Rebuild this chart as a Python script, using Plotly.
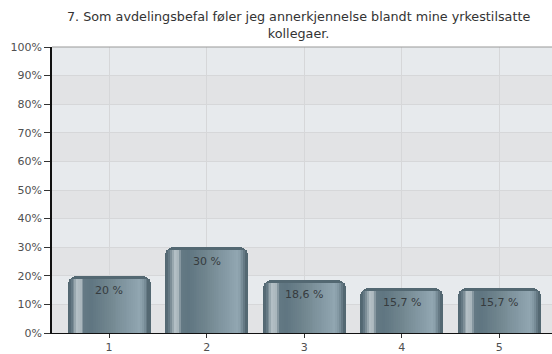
import plotly.graph_objects as go

# ---- data ----
categories = [1, 2, 3, 4, 5]
values = [20, 30, 18.6, 15.7, 15.7]
value_labels = ["20 %", "30 %", "18,6 %", "15,7 %", "15,7 %"]
y_ticks = [0, 10, 20, 30, 40, 50, 60, 70, 80, 90, 100]
y_tick_labels = ["0%", "10%", "20%", "30%", "40%", "50%", "60%", "70%", "80%", "90%", "100%"]
title_text = "7. Som avdelingsbefal føler jeg annerkjennelse blandt mine yrkestilsatte<br>kollegaer."

# ---- style ----
FONT = "DejaVu Sans, Verdana, sans-serif"
BAR_W = 0.85
CAP = 1.15  # darker rounded rim at the top (in axis units)
N_SLICES = 44
stops = [
    (0.00, "#4a5c66"),
    (0.04, "#5d727d"),
    (0.08, "#8797a0"),
    (0.11, "#b4c0c6"),
    (0.16, "#aab7bd"),
    (0.20, "#647984"),
    (0.28, "#5f7581"),
    (0.50, "#71868f"),
    (0.75, "#879ca7"),
    (0.87, "#92a7b2"),
    (0.92, "#7f949f"),
    (0.97, "#566a75"),
    (1.00, "#475962"),
]


def hex2rgb(h):
    h = h.lstrip("#")
    return tuple(int(h[i:i + 2], 16) for i in (0, 2, 4))


def grad(t):
    for (t0, c0), (t1, c1) in zip(stops[:-1], stops[1:]):
        if t0 <= t <= t1:
            f = 0 if t1 == t0 else (t - t0) / (t1 - t0)
            a, b = hex2rgb(c0), hex2rgb(c1)
            return "rgb(%d,%d,%d)" % tuple(round(a[k] + (b[k] - a[k]) * f) for k in range(3))
    return stops[-1][1]


fig = go.Figure()

# base bar (forms the dark rounded top rim)
fig.add_trace(go.Bar(
    x=categories, y=values, width=BAR_W,
    marker=dict(color="#536872", line=dict(width=0), cornerradius=9),
    hoverinfo="skip", showlegend=False,
))

# cylindrical shading slices
inner_l, inner_r = 0.015, 0.985
sw = (inner_r - inner_l) * BAR_W / N_SLICES
for i in range(N_SLICES):
    t = inner_l + (inner_r - inner_l) * (i + 0.5) / N_SLICES
    fig.add_trace(go.Bar(
        x=categories, y=[v - CAP for v in values],
        width=sw * 1.15, offset=-BAR_W / 2 + inner_l * BAR_W + i * sw,
        marker=dict(color=grad(t), line=dict(width=0)),
        hoverinfo="skip", showlegend=False,
    ))

# alternating background bands
shapes = []
for lo, hi in zip(y_ticks[:-1], y_ticks[1:]):
    shapes.append(dict(
        type="rect", xref="paper", yref="y", x0=0, x1=1, y0=lo, y1=hi,
        fillcolor="#e7eaed" if (lo // 10) % 2 == 1 else "#e2e3e5",
        line=dict(width=0), layer="below",
    ))
# top border
shapes.append(dict(type="line", xref="paper", yref="paper", x0=0, x1=1, y0=1, y1=1,
                   line=dict(color="#9a9a9a", width=1.2)))

annotations = [
    dict(x=c, y=v, text=t, showarrow=False, yanchor="top", yshift=-6,
         font=dict(family=FONT, size=11, color="#363b3e"))
    for c, v, t in zip(categories, values, value_labels)
]
# chart title (two lines)
annotations.append(dict(
    x=0.492, y=1, xref="paper", yref="paper", xanchor="center", yanchor="bottom",
    yshift=4, text=title_text, showarrow=False, align="center",
    font=dict(family=FONT, size=12.75, color="#333333"),
))

fig.update_layout(
    width=552, height=354,
    margin=dict(l=52, r=0, t=47, b=21),
    paper_bgcolor="white", plot_bgcolor="rgba(0,0,0,0)",
    barmode="overlay", bargap=0,
    font=dict(family=FONT, size=11, color="#505050"),
    shapes=shapes, annotations=annotations,
    xaxis=dict(range=[0.415, 5.54], tickmode="array", tickvals=categories,
               ticktext=[str(c) for c in categories],
               showgrid=True, gridcolor="#d6d7d9", gridwidth=1,
               showline=True, linecolor="#111111", linewidth=1.2,
               ticks="outside", ticklen=4, tickcolor="#333333", zeroline=False,
               fixedrange=True),
    yaxis=dict(range=[0, 100], tickmode="array", tickvals=y_ticks, ticktext=y_tick_labels,
               showgrid=True, gridcolor="#d6d7d9", gridwidth=1,
               showline=True, linecolor="#111111", linewidth=1.5,
               ticks="outside", ticklen=6, tickcolor="#333333", zeroline=False,
               fixedrange=True),
)

fig.write_html("out.html")
